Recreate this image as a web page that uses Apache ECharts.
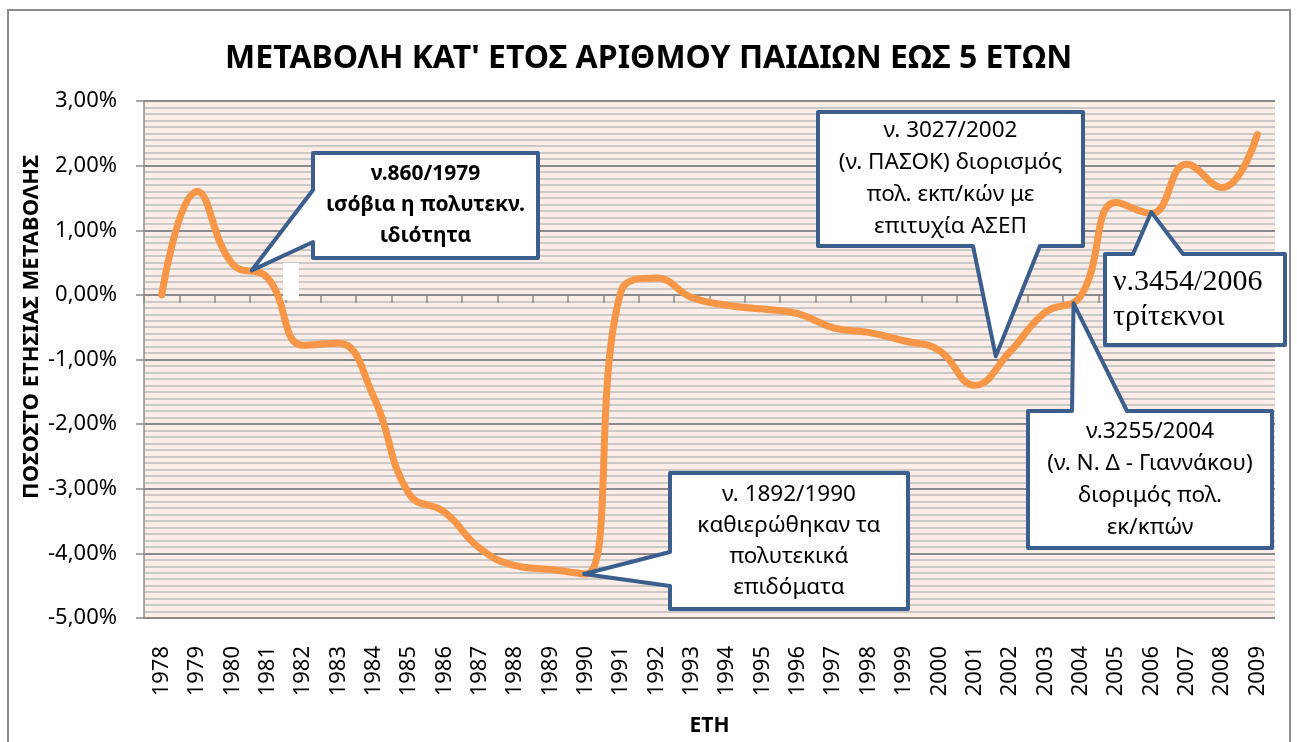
<!DOCTYPE html>
<html>
<head>
<meta charset="utf-8">
<script src="https://cdn.jsdelivr.net/npm/echarts@6/dist/echarts.min.js"></script>
<style>
html,body{margin:0;padding:0;background:#fff;}
#c{width:1297px;height:742px;}
</style>
</head>
<body>
<div id="c"></div>
<script>
// ---- data ----
const years = ['1978','1979','1980','1981','1982','1983','1984','1985','1986','1987','1988','1989','1990','1991','1992','1993','1994','1995','1996','1997','1998','1999','2000','2001','2002','2003','2004','2005','2006','2007','2008','2009'];
const changePct = [0.00,1.60,0.48,0.26,-0.78,-0.75,-1.58,-3.08,-3.36,-3.92,-4.19,-4.25,-4.32,0.06,0.26,-0.04,-0.16,-0.22,-0.29,-0.51,-0.58,-0.71,-0.86,-1.40,-0.88,-0.27,-0.02,1.43,1.26,2.02,1.66,2.48];
const yTicks = {min:-5, max:3, step:1};
const titleText = "ΜΕΤΑΒΟΛΗ ΚΑΤ' ΕΤΟΣ ΑΡΙΘΜΟΥ ΠΑΙΔΙΩΝ ΕΩΣ 5 ΕΤΩΝ";
const yName = 'ΠΟΣΟΣΤΟ ΕΤΗΣΙΑΣ ΜΕΤΑΒΟΛΗΣ';
const xName = 'ΕΤΗ';
// annotation texts and their anchors (category index + fraction, value)
const noteTexts = [
  'ν.860/1979\nισόβια η πολυτεκν.\nιδιότητα',
  'ν. 3027/2002\n(ν. ΠΑΣΟΚ) διορισμός\nπολ. εκπ/κών με\nεπιτυχία ΑΣΕΠ',
  'ν.3454/2006\nτρίτεκνοι',
  'ν.3255/2004\n(ν. Ν. Δ - Γιαννάκου)\nδιοριμός πολ.\nεκ/κπών',
  'ν. 1892/1990\nκαθιερώθηκαν τα\nπολυτεκικά\nεπιδόματα'
];
const noteAnchorCat = [2.55, 23.6, 28, 25.8, 11.95];
const noteAnchorVal = [0.38, -0.95, 1.28, -0.13, -4.32];

const FONT = '"Noto Sans", "Open Sans", sans-serif';
const chart = echarts.init(document.getElementById('c'));

chart.setOption({
  animation:false,
  backgroundColor:'#ffffff',
  title:{
    text:titleText, left:'center', top:38,
    textStyle:{fontFamily:FONT, fontSize:32, fontWeight:'bold', color:'#000'}
  },
  grid:{left:144, right:22, top:101, bottom:121, show:true, backgroundColor:'#fcede8', borderWidth:0},
  xAxis:{
    type:'category', data:years, boundaryGap:true,
    name:xName, nameLocation:'middle', nameGap:98,
    nameTextStyle:{fontFamily:FONT, fontSize:21, fontWeight:'bold', color:'#000'},
    axisLine:{lineStyle:{color:'#8c8c8c', width:1.5}},
    axisTick:{show:true, interval:0, length:8, lineStyle:{color:'#8c8c8c', width:1.5}},
    axisLabel:{rotate:90, interval:0, margin:28, fontFamily:FONT, fontSize:22, color:'#000'},
    splitLine:{show:false}
  },
  yAxis:{
    type:'value', min:yTicks.min, max:yTicks.max, interval:yTicks.step,
    axisLine:{show:true, lineStyle:{color:'#8c8c8c', width:1.5}},
    axisTick:{show:true, length:8, lineStyle:{color:'#8c8c8c', width:1.5}},
    axisLabel:{margin:27, fontFamily:FONT, fontSize:22, color:'#000',
      formatter:v=>v.toFixed(2).replace('.',',')+'%'},
    splitLine:{show:true, lineStyle:{color:'#8a8a8a', width:2}},
    minorTick:{show:false, splitNumber:10},
    minorSplitLine:{show:true, lineStyle:{color:'#bdbbba', width:1.6}}
  },
  series:[{
    type:'line', data:changePct, smooth:0.45, showSymbol:false,
    lineStyle:{color:'#f79646', width:7, cap:'round', join:'round'},
    z:3
  }]
});

function anchorPx(cf, v){
  const i = Math.floor(cf), f = cf - i;
  const x0 = chart.convertToPixel({xAxisIndex:0}, years[i]);
  const x1 = chart.convertToPixel({xAxisIndex:0}, years[Math.min(i+1, years.length-1)]);
  const x = i+1 < years.length ? x0 + (x1-x0)*f : x0;
  const y = chart.convertToPixel({yAxisIndex:0}, v);
  return [x, y];
}

// box layout: [x1,y1,x2,y2], side of wedge, wedge base positions
const boxes = [
  {r:[313,153,538,258], side:'left',   b:[190,242], bold:true,  lh:31, size:21, align:'center'},
  {r:[818,112,1083,246], side:'bottom', b:[973,1040], bold:false, lh:32, size:22.5, align:'center'},
  {r:[1105,254,1285,345], side:'top',    b:[1133,1183], bold:false, lh:35, size:30, align:'left', serif:true},
  {r:[1028,411,1272,548], side:'top',    b:[1072,1127], bold:false, lh:32, size:22.5, align:'center'},
  {r:[670,473,908,609], side:'left',   b:[552,586], bold:false, lh:31, size:22.5, align:'center'}
];

const graphics = [];
// outer chart border
graphics.push({type:'rect', shape:{x:8, y:10, width:1282, height:745}, style:{fill:null, stroke:'#8c8c8c', lineWidth:2}, z:1, silent:true});
// y axis title
graphics.push({type:'text', x:32, y:327, rotation:Math.PI/2,
  style:{text:yName, font:'bold 22px '+FONT, fill:'#000', textAlign:'center', textVerticalAlign:'middle'}, z:10});
// small white patch seen in the reference
graphics.push({type:'rect', shape:{x:283, y:263, width:16, height:37}, style:{fill:'#ffffff'}, z:5});

boxes.forEach((bx, k)=>{
  const [x1,y1,x2,y2] = bx.r;
  const tip = anchorPx(noteAnchorCat[k], noteAnchorVal[k]);
  let pts;
  if (bx.side==='left') pts = [[x1,y1],[x2,y1],[x2,y2],[x1,y2],[x1,bx.b[1]],tip,[x1,bx.b[0]]];
  else if (bx.side==='bottom') pts = [[x1,y1],[x2,y1],[x2,y2],[bx.b[1],y2],tip,[bx.b[0],y2],[x1,y2]];
  else pts = [[x1,y1],[bx.b[0],y1],tip,[bx.b[1],y1],[x2,y1],[x2,y2],[x1,y2]];
  graphics.push({type:'polygon', shape:{points:pts},
    style:{fill:'#ffffff', stroke:'#3b5e8c', lineWidth:4, lineJoin:'round'}, z:20});
  const font = (bx.bold?'bold ':'') + bx.size + 'px ' + (bx.serif ? '"Liberation Serif", "DejaVu Serif", serif' : FONT);
  const tx = bx.align==='center' ? (x1+x2)/2 : x1+8;
  graphics.push({type:'text', x:tx, y:(y1+y2)/2,
    style:{text:noteTexts[k], font:font, fill:'#000', textAlign:bx.align, textVerticalAlign:'middle', lineHeight:bx.lh}, z:21});
});

chart.setOption({graphic:graphics});
</script>
</body>
</html>
